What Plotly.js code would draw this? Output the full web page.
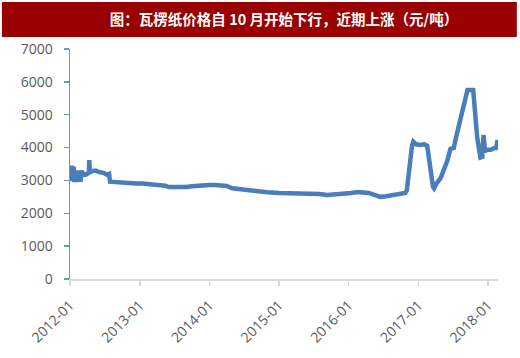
<!DOCTYPE html>
<html><head><meta charset="utf-8">
<script src="https://cdn.plot.ly/plotly-3.0.1.min.js"></script>
<style>html,body{margin:0;padding:0;background:#fff;}#chart{width:520px;height:358px;}</style>
</head><body><div id="chart"></div>
<script>
const dates = [
"2012-01-02","2012-01-04","2012-01-06","2012-01-09","2012-01-11","2012-01-14","2012-01-17","2012-01-20","2012-01-24","2012-01-28",
"2012-02-02","2012-02-06","2012-02-10","2012-02-15","2012-02-20","2012-02-25","2012-03-02","2012-03-08","2012-03-15","2012-03-25",
"2012-04-05","2012-04-09","2012-04-11","2012-04-14","2012-04-25","2012-05-15","2012-06-05","2012-06-25","2012-07-10","2012-07-24",
"2012-07-29","2012-08-15","2012-09-15","2012-10-15","2012-11-15","2012-12-15","2013-01-15","2013-02-15","2013-03-15","2013-04-15",
"2013-05-15","2013-06-01","2013-07-01","2013-08-01","2013-09-01","2013-10-01","2013-11-01","2013-12-01","2014-01-01","2014-02-01",
"2014-03-01","2014-04-01","2014-05-01","2014-06-01","2014-07-01","2014-08-01","2014-09-01","2014-10-01","2014-11-01","2015-01-01",
"2015-03-01","2015-05-01","2015-06-15","2015-08-01","2015-09-10","2015-10-15","2015-12-01","2016-01-15","2016-02-15","2016-04-15",
"2016-05-15","2016-06-15","2016-07-15","2016-08-15","2016-09-15","2016-10-24","2016-11-01","2016-11-10","2016-11-20","2016-11-28",
"2016-12-05","2016-12-20","2017-01-10","2017-02-01","2017-02-16","2017-03-05","2017-03-18","2017-03-24","2017-04-05","2017-04-27",
"2017-05-15","2017-06-01","2017-06-18","2017-07-05","2017-07-20","2017-08-10","2017-08-30","2017-09-15","2017-10-15","2017-10-25",
"2017-11-05","2017-11-22","2017-12-02","2017-12-08","2017-12-16","2017-12-29","2018-01-15","2018-02-05","2018-02-12","2018-02-20"
];
const prices = [
3050,3450,3000,3450,3100,3400,2980,3420,2950,3300,
3150,2950,3300,3000,3300,2960,3300,3150,3200,3180,
3220,3250,3620,3250,3280,3300,3250,3230,3180,3200,
2960,2950,2940,2930,2920,2910,2910,2900,2890,2880,
2840,2800,2790,2790,2800,2820,2840,2850,2860,2860,
2850,2830,2760,2740,2710,2680,2660,2650,2640,2620,
2610,2610,2620,2590,2560,2570,2600,2620,2650,2620,
2560,2500,2520,2560,2590,2620,2700,3100,3800,4050,
4180,4100,4080,4100,4050,3300,2810,2760,2900,3070,
3300,3600,3960,3990,4380,4900,5500,5750,5750,5200,
4300,3700,3720,4380,3900,3930,3930,3990,3990,4230
];
const yTicks = [0,1000,2000,3000,4000,5000,6000,7000];
const xTicks = ["2012-01-01","2013-01-01","2014-01-01","2015-01-01","2016-01-01","2017-01-01","2018-01-01"];
const xLabels = ["2012-01","2013-01","2014-01","2015-01","2016-01","2017-01","2018-01"];
const titleText = "图：瓦楞纸价格自 10 月开始下行，近期上涨（元/吨）";

const trace = {
  x: dates, y: prices, type: "scatter", mode: "lines",
  line: {color: "#4a7ebb", width: 4.5, shape: "linear"},
  hoverinfo: "skip"
};
const tickFont = {family: "Open Sans, sans-serif", size: 14, color: "#595959"};
const layout = {
  width: 520, height: 358,
  margin: {l: 70, r: 22, t: 49, b: 79},
  paper_bgcolor: "#ffffff", plot_bgcolor: "#ffffff",
  showlegend: false,
  title: {text: "<b>" + titleText + "</b>", x: 0.5, xref: "paper", xanchor: "center",
          y: 1 - 20/358, yref: "container", yanchor: "middle",
          font: {family: "Noto Sans CJK SC, sans-serif", size: 14.5, color: "#ffffff"}},
  shapes: [
    {type: "rect", xref: "paper", yref: "paper", x0: -0.159, x1: 1.044, y0: 1.052, y1: 1.204,
     fillcolor: "#990000", line: {width: 0}, layer: "below"}
  ],
  xaxis: {
    type: "date", range: ["2012-01-01", "2018-02-22"],
    tickvals: xTicks, ticktext: xLabels, tickangle: -45,
    showgrid: false, zeroline: false,
    showline: true, linecolor: "#d9d9d9", linewidth: 1.5,
    ticks: "outside", ticklen: 5, tickcolor: "#d9d9d9", tickwidth: 1.5,
    ticklabelstandoff: 6,
    tickfont: tickFont
  },
  yaxis: {
    range: [0, 7000], tickvals: yTicks,
    showgrid: false, zeroline: false,
    showline: true, linecolor: "#5b9bd5", linewidth: 1.5,
    ticks: "outside", ticklen: 5, tickcolor: "#5b9bd5", tickwidth: 1.5,
    ticklabelstandoff: 8,
    tickfont: tickFont
  }
};
Plotly.newPlot("chart", [trace], layout, {displayModeBar: false, staticPlot: true});
</script>
</body></html>
